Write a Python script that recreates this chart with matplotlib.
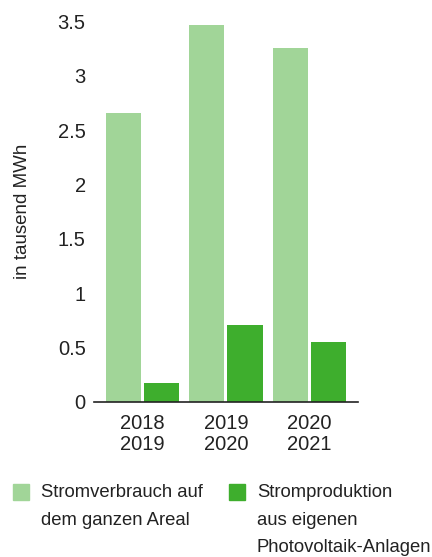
import numpy as np
import matplotlib
matplotlib.use('Agg')
import matplotlib.pyplot as plt
from matplotlib.patches import Rectangle

plt.rcParams['font.family'] = ['Liberation Sans', 'DejaVu Sans']

periods = ['2018\n2019', '2019\n2020', '2020\n2021']
verbrauch = [2.66, 3.47, 3.26]
produktion = [0.17, 0.71, 0.55]
labels = ['Stromverbrauch auf\ndem ganzen Areal',
          'Stromproduktion\naus eigenen\nPhotovoltaik-Anlagen']

C_LIGHT = '#A1D598'
C_DARK = '#3EAE2D'
C_TEXT = '#222222'

fig = plt.figure(figsize=(4.32, 5.57), dpi=100)
ax = fig.add_axes([0.2176, 0.2788, 0.611, 0.6824])

x = np.arange(len(periods))
w = 0.42
ax.bar(x - 0.228, verbrauch, width=w, color=C_LIGHT)
ax.bar(x + 0.228, produktion, width=w, color=C_DARK)

ax.set_xlim(-0.58, 2.58)
ax.set_ylim(0, 3.5)
ax.set_yticks([0, 0.5, 1, 1.5, 2, 2.5, 3, 3.5])
ax.set_yticklabels(['0', '0.5', '1', '1.5', '2', '2.5', '3', '3.5'])
ax.set_xticks(x)
ax.set_xticklabels(periods, linespacing=1.1)
ax.tick_params(axis='both', length=0, labelsize=14.5, colors=C_TEXT)
ax.tick_params(axis='y', pad=6)
ax.tick_params(axis='x', pad=9)
ax.set_ylabel('in tausend MWh', fontsize=13.5, color=C_TEXT, labelpad=19)
for s in ['top', 'right', 'left']:
    ax.spines[s].set_visible(False)
ax.spines['bottom'].set_color('#222222')
ax.spines['bottom'].set_linewidth(1.2)

# legend drawn by hand
W, H = 432, 557
for (px, color, lab) in [(13, C_LIGHT, labels[0]), (229, C_DARK, labels[1])]:
    fig.add_artist(Rectangle((px / W, 1 - 500 / H), 16 / W, 16 / H,
                             transform=fig.transFigure, color=color))
    fig.text((px + 28) / W, 1 - 484 / H, lab, fontsize=13.3, color=C_TEXT,
             va='top', ha='left', linespacing=1.82)

fig.savefig('out.png', dpi=100)
